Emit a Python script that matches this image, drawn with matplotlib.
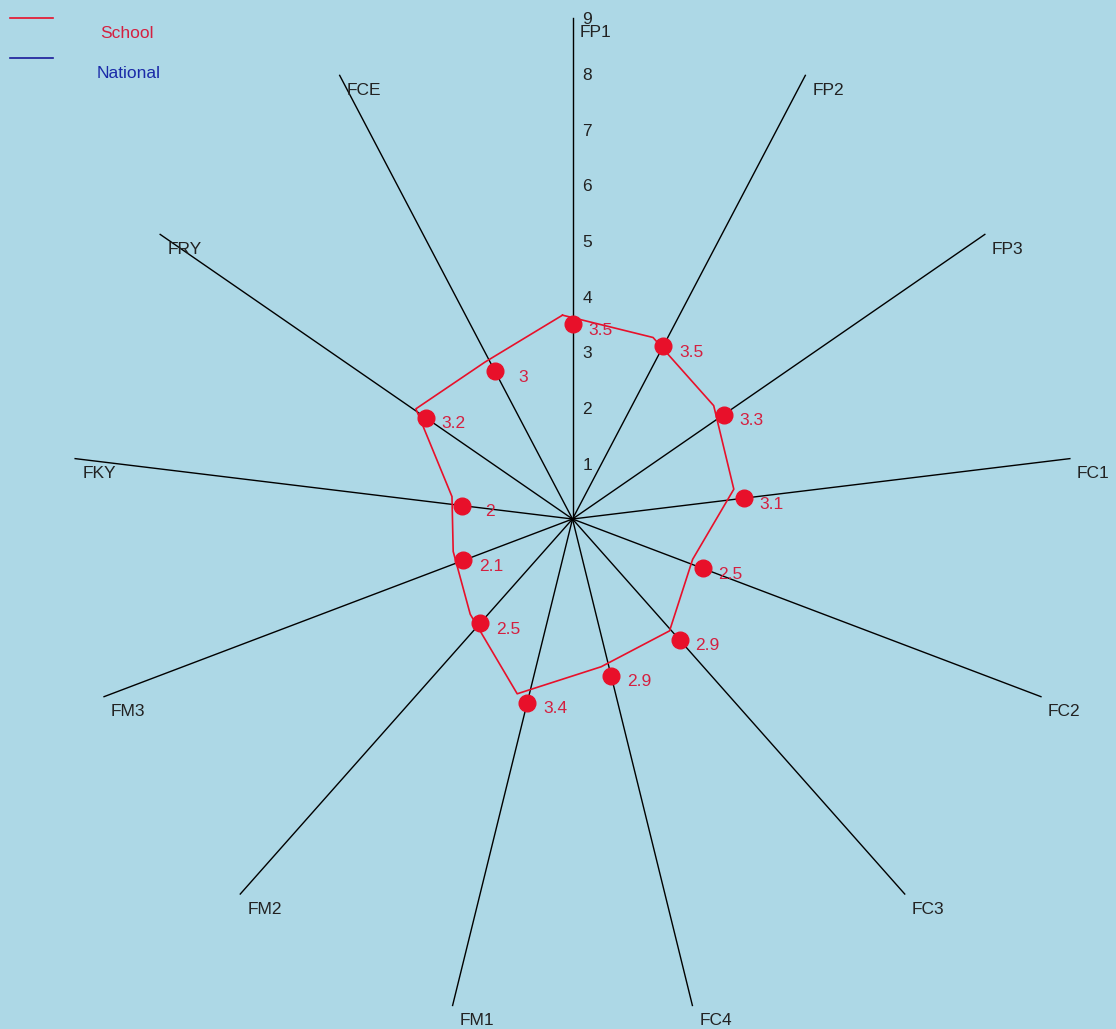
import numpy as np
import matplotlib.pyplot as plt
from matplotlib.lines import Line2D
from matplotlib.transforms import offset_copy

plt.rcParams['font.family'] = ['Liberation Sans', 'DejaVu Sans']

# data
axis_names = ['FP1', 'FP2', 'FP3', 'FC1', 'FC2', 'FC3', 'FC4',
              'FM1', 'FM2', 'FM3', 'FKY', 'FRY', 'FCE']
school = [3.5, 3.5, 3.3, 3.1, 2.5, 2.9, 2.9, 3.4, 2.5, 2.1, 2, 3.2, 3]
scale_ticks = [1, 2, 3, 4, 5, 6, 7, 8, 9]
r_max = 9

W, H = 1116, 1029
bg = '#add8e6'
red = '#e8102a'
txt_red = '#d42040'

fig = plt.figure(figsize=(W / 100, H / 100), dpi=100, facecolor=bg)
ax = fig.add_axes([0, 0, 1, 1])
ax.set_facecolor(bg)
ax.set_xlim(-10.284, 9.763)
ax.set_ylim(-9.161, 9.323)
ax.axis('off')

n = len(axis_names)
ang = np.arange(n) * 2 * np.pi / n
dx = np.sin(ang)
dy = np.cos(ang)

# spokes + their names
for i in range(n):
    ax.plot([0, r_max * dx[i]], [0, r_max * dy[i]], color='black', lw=1.0)
    ax.annotate(axis_names[i], (r_max * dx[i], r_max * dy[i]),
                xytext=(7, -15), textcoords='offset pixels',
                ha='left', va='center', fontsize=12.5, color='#222222')

# scale numbers along the first spoke
for t in scale_ticks:
    ax.annotate(str(t), (0, t), xytext=(10, -2), textcoords='offset pixels',
                ha='left', va='center', fontsize=12.5, color='#222222')

# school polygon (drawn slightly shifted up-left, as in the original)
v = np.array(school)
xs = v * dx
ys = v * dy
shift = offset_copy(ax.transData, fig=fig, x=-10, y=9, units='dots')
ax.plot(np.append(xs, xs[0]), np.append(ys, ys[0]), color=red, lw=1.2,
        transform=shift)
ax.plot(xs, ys, 'o', color=red, ms=12, mec=red)
for x, y, val in zip(xs, ys, school):
    ax.annotate(f'{val:g}', (x, y), xytext=(28, -6), textcoords='offset pixels',
                ha='center', va='center', fontsize=12.5, color=txt_red)

# legend top-left
fig.add_artist(Line2D([10 / W, 53 / W], [1 - 18 / H] * 2, color=red, lw=1.2))
fig.add_artist(Line2D([10 / W, 53 / W], [1 - 58 / H] * 2, color='#1a1a9a', lw=1.2))
fig.text(100 / W, 1 - 34 / H, 'School', color=txt_red, fontsize=12.5,
         ha='left', va='center')
fig.text(97 / W, 1 - 73 / H, 'National', color='#1a2aa8', fontsize=12.5,
         ha='left', va='center')

fig.savefig('out.png', dpi=100, facecolor=bg)
